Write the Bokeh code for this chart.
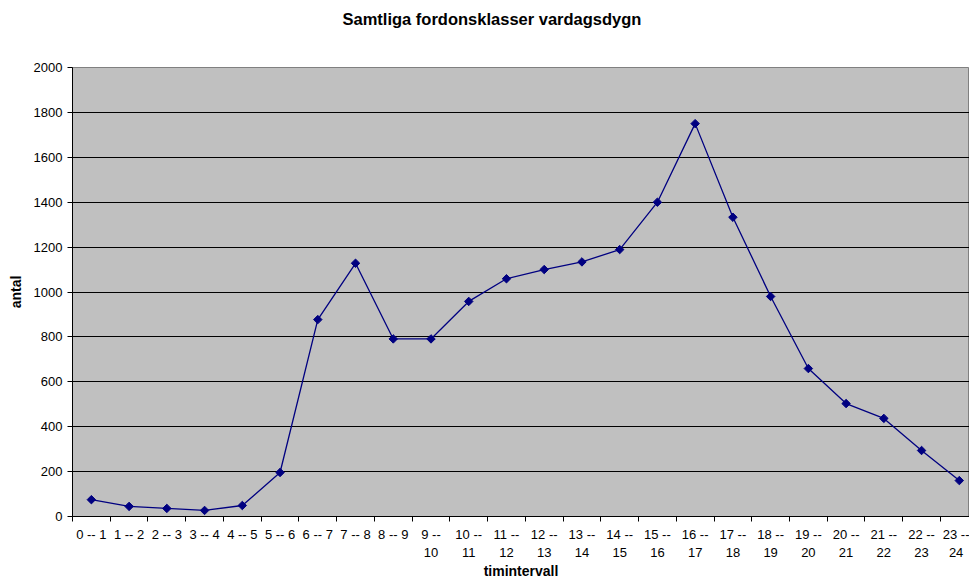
import numpy as np
from bokeh.plotting import figure
from bokeh.models import Range1d, FixedTicker, Title
from bokeh.embed import file_html
from bokeh.resources import INLINE

categories = ["0 -- 1", "1 -- 2", "2 -- 3", "3 -- 4", "4 -- 5", "5 -- 6", "6 -- 7",
              "7 -- 8", "8 -- 9", "9 --\n10", "10 --\n11", "11 --\n12", "12 --\n13",
              "13 --\n14", "14 --\n15", "15 --\n16", "16 --\n17", "17 --\n18",
              "18 --\n19", "19 --\n20", "20 --\n21", "21 --\n22", "22 --\n23", "23 --\n24"]
values = [75, 45, 36, 27, 49, 196, 877, 1128, 791, 791, 958, 1059, 1100, 1134,
          1189, 1400, 1750, 1333, 980, 659, 503, 437, 294, 160]
y_ticks = [0, 200, 400, 600, 800, 1000, 1200, 1400, 1600, 1800, 2000]
title_text = "Samtliga fordonsklasser vardagsdygn"
x_title = "timintervall"
y_title = "antal"

FONT = "Liberation Sans"
n = len(categories)
centers = [i + 0.5 for i in range(n)]
bounds = list(range(n + 1))

p = figure(width=969, height=582, output_backend="svg", toolbar_location=None,
           x_range=Range1d(0, 23.77), y_range=Range1d(0, 2000),
           min_border_left=72, min_border_right=0, min_border_top=67, min_border_bottom=66)
p.title = None

# spacer between the frame and the chart title
spacer = Title(text=" ", text_font=FONT, text_font_size="16px", standoff=16)
p.add_layout(spacer, "above")
t = Title(text=title_text, align="left", offset=270, standoff=10,
          text_font=FONT, text_font_size="16.5px", text_font_style="bold", text_color="black")
p.add_layout(t, "above")

p.border_fill_color = "white"
p.background_fill_color = "#C0C0C0"
p.outline_line_color = "#808080"

p.xgrid.visible = False
p.ygrid.grid_line_color = "black"
p.ygrid.grid_line_width = 1
p.ygrid.ticker = FixedTicker(ticks=y_ticks[:-1])

xa = p.xaxis[0]
xa.ticker = FixedTicker(ticks=centers, minor_ticks=bounds)
xa.major_label_overrides = {c: lab for c, lab in zip(centers, categories)}
xa.major_tick_line_color = None
xa.major_tick_out = 0
xa.major_tick_in = 0
xa.minor_tick_line_color = "black"
xa.minor_tick_out = 5
xa.minor_tick_in = 0
xa.major_label_standoff = 5
xa.major_label_text_font = FONT
xa.major_label_text_font_size = "13px"
xa.major_label_text_color = "black"
xa.major_label_text_line_height = 1.25
xa.axis_line_color = "black"
xa.axis_label = x_title
xa.axis_label_text_font = FONT
xa.axis_label_text_font_size = "14px"
xa.axis_label_text_font_style = "bold"
xa.axis_label_text_color = "black"
xa.axis_label_standoff = 0

ya = p.yaxis[0]
ya.ticker = FixedTicker(ticks=y_ticks)
ya.minor_tick_line_color = None
ya.major_tick_out = 5
ya.major_tick_in = 0
ya.major_tick_line_color = "black"
ya.axis_line_color = "black"
ya.major_label_standoff = 5
ya.major_label_text_font = FONT
ya.major_label_text_font_size = "13px"
ya.major_label_text_color = "black"
ya.axis_label = y_title
ya.axis_label_text_font = FONT
ya.axis_label_text_font_size = "14px"
ya.axis_label_text_font_style = "bold"
ya.axis_label_text_color = "black"
ya.axis_label_standoff = 7

p.line(centers, values, line_color="#000080", line_width=1.3)
p.scatter(centers, values, marker="square", angle=np.pi / 4, size=6,
          fill_color="#000080", line_color="#000080")

open("out.html", "w").write(file_html(p, INLINE))
